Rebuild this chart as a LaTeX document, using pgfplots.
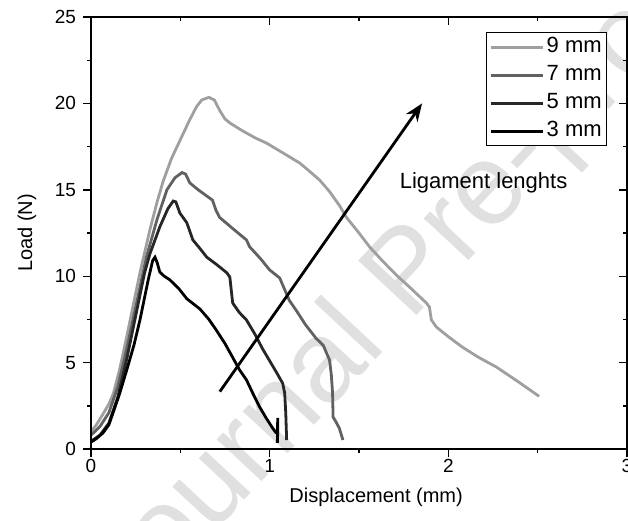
\documentclass[border=0pt]{standalone}
\usepackage{fontspec}
\setmainfont{Liberation Sans}
\usepackage{pgfplots}
\pgfplotsset{compat=1.18}
\usetikzlibrary{arrows.meta}

\pgfplotstableread{
x y
0 1.0
0.03 1.4
0.06 1.9
0.1 2.6
0.125 3.2
0.16 4.6
0.2 6.5
0.24 8.5
0.274 10.2
0.33 12.7
0.37 14.3
0.404 15.5
0.45 16.8
0.5 17.9
0.55 19.0
0.59 19.8
0.62 20.2
0.66 20.35
0.69 20.2
0.72 19.6
0.75 19.1
0.78 18.85
0.85 18.4
0.92 18.0
0.983 17.7
1.08 17.1
1.168 16.55
1.22 16.1
1.279 15.57
1.335 14.9
1.39 14.1
1.43 13.4
1.5 12.5
1.559 11.7
1.63 10.9
1.709 10.07
1.79 9.3
1.877 8.45
1.894 8.22
1.905 7.47
1.933 7.06
2.0 6.5
2.078 5.9
2.17 5.3
2.268 4.75
2.39 3.9
2.508 3.05
}\nine

\pgfplotstableread{
x y
0 0.8
0.05 1.3
0.1 2.1
0.15 3.6
0.2 5.8
0.25 8.2
0.31 11.1
0.37 13.3
0.425 15.0
0.47 15.7
0.51 16.0
0.53 15.9
0.553 15.4
0.6 15.0
0.68 14.4
0.70 13.8
0.72 13.4
0.8 12.7
0.87 12.1
0.888 11.7
0.95 11.0
1.0 10.36
1.056 9.9
1.11 8.6
1.15 8.0
1.2 7.2
1.26 6.4
1.3 6.0
1.335 5.15
1.345 4.3
1.352 3.24
1.355 1.85
1.375 1.5
1.39 1.2
1.41 0.52
}\seven

\pgfplotstableread{
x y
0 0.45
0.05 0.8
0.1 1.5
0.15 3.0
0.2 5.2
0.25 7.7
0.3 10.2
0.33 11.3
0.385 12.85
0.43 13.9
0.46 14.35
0.475 14.3
0.497 13.66
0.536 13.1
0.57 12.1
0.61 11.6
0.648 11.1
0.7 10.7
0.76 10.2
0.777 9.95
0.785 9.2
0.793 8.45
0.83 7.9
0.87 7.47
0.92 6.6
0.96 5.8
1.0 5.1
1.04 4.4
1.073 3.8
1.084 3.24
1.09 2.1
1.095 0.52
}\five

\pgfplotstableread{
x y
0 0.4
0.03 0.6
0.067 0.93
0.1 1.4
0.123 2.08
0.16 3.2
0.2 4.57
0.24 6.0
0.274 7.47
0.32 9.78
0.345 10.9
0.358 11.1
0.37 10.8
0.385 10.24
0.41 10.0
0.44 9.8
0.49 9.3
0.536 8.7
0.61 8.1
0.66 7.5
0.70 6.9
0.75 6.1
0.793 5.3
0.83 4.6
0.87 4.0
0.905 3.24
0.944 2.43
0.98 1.8
1.017 1.2
1.035 0.95
1.045 0.9
1.045 1.8
1.043 0.35
}\three

\begin{document}
\begin{tikzpicture}
\begin{axis}[
  scale only axis,
  width=268pt, height=216pt,
  xmin=0, xmax=3, ymin=0, ymax=25,
  xtick={0,1,2,3}, ytick={0,5,10,15,20,25},
  minor x tick num=1, minor y tick num=1,
  xtick pos=bottom, ytick pos=left,
  tick align=outside,
  major tick length=4pt, minor tick length=2pt,
  every tick/.style={black, line width=0.7pt},
  axis line style={line width=0.75pt},
  /pgf/number format/assume math mode=true,
  tick label style={font=\fontsize{9.5}{11}\selectfont},
  xticklabel style={yshift=2.5pt},
  xlabel={Displacement (mm)}, ylabel={Load (N)},
  every axis x label/.style={at={(axis description cs:0.532,0)}, yshift=-24pt, anchor=center, font=\fontsize{10}{12}\selectfont},
  every axis y label/.style={at={(axis description cs:0,0.5)}, xshift=-32pt, anchor=center, rotate=90, font=\fontsize{10}{12}\selectfont},
  clip=false,
  legend style={at={(0.963,0.965)}, anchor=north east, draw=black, line width=0.5pt,
    font=\fontsize{11}{13}\selectfont, inner xsep=1.5pt, inner ysep=1pt, row sep=1.5pt,
    nodes={inner sep=1pt, text height=8pt, text depth=2.5pt}},
  legend cell align=left,
  legend image code/.code={\draw[#1] (0pt,0pt) -- (26pt,0pt);},
]
\node[black!12, rotate=47, font=\fontsize{58}{60}\selectfont] at (axis cs:1.8,10.0) {Journal Pre-proof};
\addplot[gray!75, line width=1.4pt] table[x=x,y=y] {\nine};
\addlegendentry{9 mm}
\addplot[black!62, line width=1.4pt] table[x=x,y=y] {\seven};
\addlegendentry{7 mm}
\addplot[black!85, line width=1.4pt] table[x=x,y=y] {\five};
\addlegendentry{5 mm}
\addplot[black, line width=1.4pt] table[x=x,y=y] {\three};
\addlegendentry{3 mm}
\draw[line width=1.4pt, -{Stealth[length=9pt,width=7pt]}] (axis cs:0.721,3.32) -- (axis cs:1.853,20.0);
\node[anchor=west, font=\fontsize{11}{13}\selectfont, inner sep=0pt] at (axis cs:1.726,15.4) {Ligament lenghts};
\end{axis}
\begin{axis}[
  scale only axis,
  width=268pt, height=216pt,
  xmin=0, xmax=3, ymin=0, ymax=25,
  xtick={0,1,2,3}, ytick={0,5,10,15,20,25},
  minor x tick num=1, minor y tick num=1,
  xtick pos=top, ytick pos=right,
  tick align=inside,
  major tick length=4pt, minor tick length=2pt,
  every tick/.style={black, line width=0.7pt},
  axis line style={line width=0.75pt},
  xticklabels={}, yticklabels={},
]
\end{axis}
\pgfresetboundingbox
\path[use as bounding box] ([xshift=-45.5pt,yshift=-35.5pt]current axis.south west) rectangle ([xshift=0.5pt,yshift=8.5pt]current axis.north east);
\end{tikzpicture}
\end{document}
